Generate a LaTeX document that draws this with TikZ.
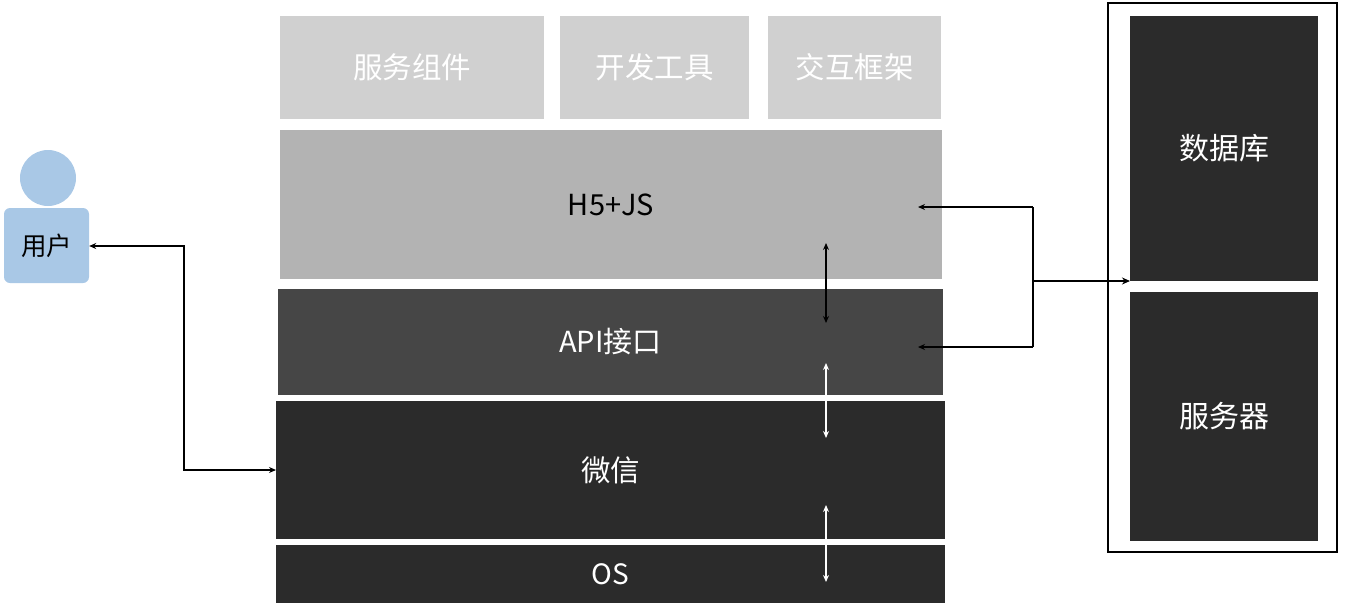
\documentclass[tikz,border=0pt]{standalone}
\usepackage{fontspec}
\setmainfont{Noto Sans CJK SC}
\usetikzlibrary{arrows.meta}
\definecolor{lg}{HTML}{D0D0D0}
\definecolor{mg}{HTML}{B3B3B3}
\definecolor{dg}{HTML}{464646}
\definecolor{bk}{HTML}{2B2B2B}
\definecolor{ub}{HTML}{A9C8E6}
\begin{document}
\begin{tikzpicture}[x=1pt,y=-1pt,
 box/.style={inner sep=0,outer sep=0,text=white,font=\fontsize{29.5}{34}\selectfont},
 arr/.style={line width=1.2pt,{Stealth[length=7pt,width=6pt]}-{Stealth[length=7pt,width=6pt]}}]
\useasboundingbox (0,0) rectangle (1350,608);
\newcommand\bx[7]{\node[box,fill=#6,text=#7,minimum width=#3-#1,minimum height=#4-#2] (#5) at ({(#1+#3)/2},{(#2+#4)/2}) {};}
\bx{280}{16}{544}{119}{a}{lg}{white}
\bx{560}{16}{749}{119}{b}{lg}{white}
\bx{768}{16}{941}{119}{c}{lg}{white}
\bx{280}{130}{942}{279}{h5}{mg}{black}
\bx{278}{289}{943}{395}{api}{dg}{white}
\bx{276}{401}{945}{539}{wx}{bk}{white}
\bx{276}{545}{945}{603}{os}{bk}{white}
\node[box] at (a) {服务组件};
\node[box] at (b) {开发工具};
\node[box] at (c) {交互框架};
\node[box,text=black,font=\fontsize{29}{34}\selectfont] at (h5) {H5+JS};
\node[box,font=\fontsize{29}{34}\selectfont] at (api) {API接口};
\node[box] at (wx) {微信};
\node[box,font=\fontsize{28}{34}\selectfont] at (os) {OS};
\node[draw=black,line width=1.5pt,fill=white,minimum width=229,minimum height=549,inner sep=0] (frame) at (1222.5,277.5) {};
\bx{1130}{16}{1318}{281}{db}{bk}{white}
\bx{1130}{292}{1318}{541}{sv}{bk}{white}
\node[box,font=\fontsize{30}{34}\selectfont] at (db) {数据库};
\node[box,font=\fontsize{30}{34}\selectfont] at (sv) {服务器};
\node[circle,fill=ub,minimum size=56,inner sep=0] (head) at (48,178) {};
\node[fill=ub,rounded corners=6pt,minimum width=85,minimum height=75,inner sep=0,font=\fontsize{25.5}{30}\selectfont] (user) at (46.5,245.5) {用户};
\coordinate (u1) at (184,246);
\coordinate (w1) at (276,470);
\draw[arr] (user.east |- u1) -- (u1) |- (w1);
\draw[arr] (826,243) coordinate (p1) -- (826,323) coordinate (p2);
\draw[arr,white] (826,363) coordinate (p3) -- (826,438) coordinate (p4);
\draw[arr,white] (826,505) coordinate (p5) -- (826,582) coordinate (p6);
\coordinate (r1) at (1033,207);
\coordinate (r2) at (1033,347);
\coordinate (r3) at (1033,281);
\draw[line width=1.2pt,-{Stealth[length=7pt,width=6pt]}] (r1) -- (918,207);
\draw[line width=1.2pt,-{Stealth[length=7pt,width=6pt]}] (r2) -- (918,347);
\draw[line width=1.2pt] (r1) -- (r2);
\draw[line width=1.6pt,-{Stealth[length=8pt,width=7pt]}] (r3) -- (db.west |- r3);
\end{tikzpicture}
\end{document}
